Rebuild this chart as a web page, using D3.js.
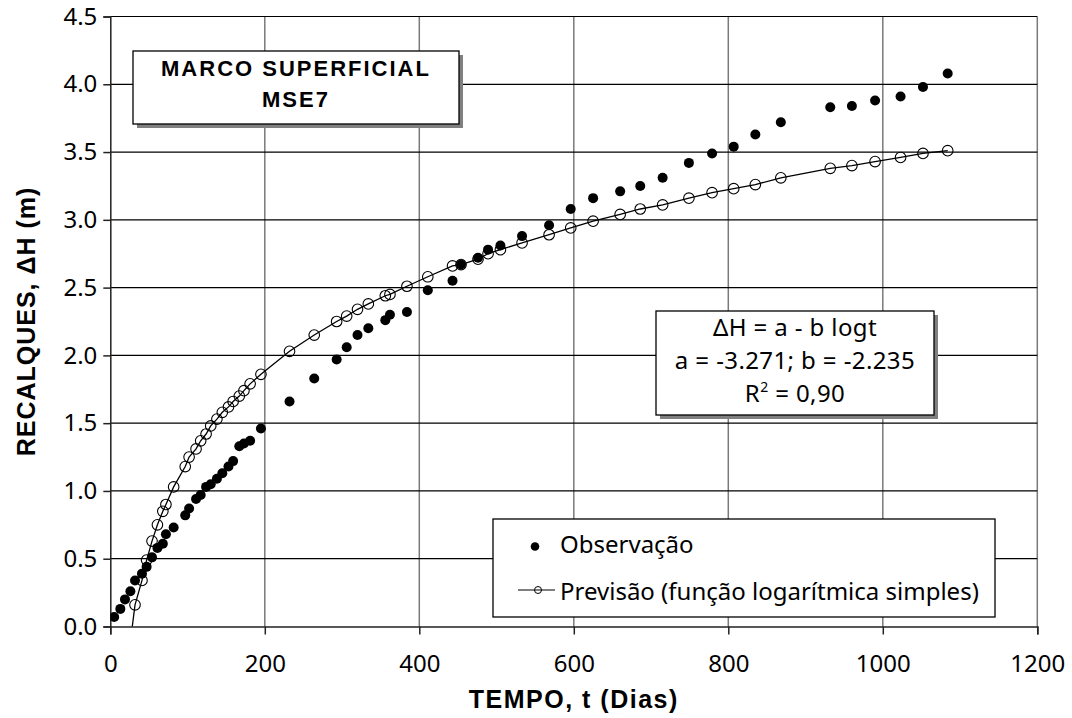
<!DOCTYPE html>
<html>
<head>
<meta charset="utf-8">
<script src="https://cdn.jsdelivr.net/npm/d3@7"></script>
<style>
  html, body { margin: 0; padding: 0; background: #fff; }
  svg { display: block; }
</style>
</head>
<body>
<svg id="chart" width="1072" height="718"></svg>
<script>
// Settlement monitoring of surface marker MSE7: observed settlements and
// the simple logarithmic prediction ΔH = a - b·log t.
const days = [5, 13, 19, 26, 32, 41, 47, 54, 61, 68, 72, 82, 97, 102, 111, 117, 124, 130, 138, 145,
  153, 159, 167, 173, 181, 195, 232, 264, 293, 306, 320, 334, 356, 362, 384, 411, 443, 454, 476, 489,
  505, 533, 568, 596, 625, 660, 686, 715, 749, 779, 807, 835, 868, 932, 960, 990, 1023, 1052, 1084];

const observed = [0.07, 0.13, 0.20, 0.26, 0.34, 0.39, 0.44, 0.51, 0.58, 0.61, 0.68, 0.73, 0.82, 0.87, 0.94,
  0.97, 1.03, 1.05, 1.09, 1.13, 1.18, 1.22, 1.33, 1.35, 1.37, 1.46, 1.66, 1.83, 1.97, 2.06,
  2.15, 2.20, 2.26, 2.30, 2.32, 2.48, 2.55, 2.67, 2.72, 2.78, 2.81, 2.88, 2.96, 3.08, 3.16,
  3.21, 3.25, 3.31, 3.42, 3.49, 3.54, 3.63, 3.72, 3.83, 3.84, 3.88, 3.91, 3.98, 4.08];

const predicted = [-1.71, -0.78, -0.41, -0.11, 0.16, 0.34, 0.49, 0.63, 0.75, 0.85, 0.90, 1.03, 1.18, 1.25, 1.31,
  1.37, 1.42, 1.48, 1.53, 1.58, 1.62, 1.66, 1.70, 1.74, 1.79, 1.86, 2.03, 2.15, 2.25, 2.29,
  2.34, 2.38, 2.44, 2.45, 2.51, 2.58, 2.66, 2.67, 2.71, 2.75, 2.78, 2.83, 2.89, 2.94, 2.99,
  3.04, 3.08, 3.11, 3.16, 3.20, 3.23, 3.26, 3.31, 3.38, 3.40, 3.43, 3.46, 3.49, 3.51];

const xTicks = [0, 200, 400, 600, 800, 1000, 1200];
const yTicks = [0, 0.5, 1.0, 1.5, 2.0, 2.5, 3.0, 3.5, 4.0, 4.5];

const xTitle = "TEMPO, t (Dias)";
const yTitle = "RECALQUES, ΔH (m)";
const markerTitle = ["MARCO SUPERFICIAL", "MSE7"];
const fitLines = ["ΔH = a - b logt", "a = -3.271; b = -2.235"];
const legendLabels = ["Observação", "Previsão (função logarítmica simples)"];

const svg = d3.select("#chart");
const plot = { left: 110.3, right: 1037.3, top: 16.5, bottom: 626.5 };

const x = d3.scaleLinear().domain([0, 1200]).range([plot.left, plot.right]);
const y = d3.scaleLinear().domain([0, 4.5]).range([plot.bottom, plot.top]);

const textFont = "'Noto Sans', 'DejaVu Sans', sans-serif";
const titleFont = "'Liberation Sans', Arial, sans-serif";
const textSize = 24;

svg.append("defs").append("clipPath").attr("id", "plot-clip")
  .append("rect")
  .attr("x", plot.left).attr("y", plot.top)
  .attr("width", plot.right - plot.left).attr("height", plot.bottom - plot.top);

// grid: vertical lines grey, horizontal lines black
const grid = svg.append("g");
grid.selectAll("line.v").data(xTicks.filter(d => d > 0)).join("line")
  .attr("x1", d => x(d)).attr("x2", d => x(d))
  .attr("y1", plot.top).attr("y2", plot.bottom)
  .attr("stroke", "#7a7a7a").attr("stroke-width", 1.5);
grid.selectAll("line.h").data(yTicks.filter(d => d > 0)).join("line")
  .attr("x1", plot.left).attr("x2", plot.right)
  .attr("y1", d => y(d)).attr("y2", d => y(d))
  .attr("stroke", "#000").attr("stroke-width", 1.2);

// axes
const xAxis = d3.axisBottom(x).tickValues(xTicks).tickSize(8).tickFormat(d3.format("d"));
const yAxis = d3.axisLeft(y).tickValues(yTicks).tickSize(7).tickFormat(d3.format(".1f"));

const gx = svg.append("g").attr("transform", `translate(0,${plot.bottom})`).call(xAxis);
gx.select(".domain").attr("stroke", "#222").attr("stroke-width", 1.5);
gx.selectAll(".tick line").attr("stroke", "#222").attr("stroke-width", 1.5);
gx.selectAll(".tick text").attr("font-family", textFont).attr("font-size", textSize)
  .attr("fill", "#000").attr("dy", "0").attr("y", 45);

const gy = svg.append("g").attr("transform", `translate(${plot.left},0)`).call(yAxis);
gy.select(".domain").attr("stroke", "#222").attr("stroke-width", 1.5);
gy.selectAll(".tick line").attr("stroke", "#222").attr("stroke-width", 1.5);
gy.selectAll(".tick text").attr("font-family", textFont).attr("font-size", textSize)
  .attr("fill", "#000").attr("x", -13);

// axis titles
svg.append("text")
  .attr("x", (plot.left + plot.right) / 2).attr("y", 708)
  .attr("text-anchor", "middle")
  .attr("font-family", titleFont).attr("font-weight", "bold").attr("font-size", 25)
  .attr("letter-spacing", 1.5)
  .text(xTitle);

svg.append("text")
  .attr("transform", `translate(35,${(plot.top + plot.bottom) / 2}) rotate(-90)`)
  .attr("text-anchor", "middle")
  .attr("font-family", titleFont).attr("font-weight", "bold").attr("font-size", 25)
  .attr("letter-spacing", 1)
  .text(yTitle);

// series
const series = svg.append("g").attr("clip-path", "url(#plot-clip)");
const rows = days.map((d, i) => ({ t: d, obs: observed[i], pred: predicted[i] }));

series.append("path")
  .datum(rows)
  .attr("fill", "none").attr("stroke", "#000").attr("stroke-width", 1.3)
  .attr("d", d3.line().x(d => x(d.t)).y(d => y(d.pred)));

series.selectAll("circle.pred").data(rows).join("circle")
  .attr("class", "pred")
  .attr("cx", d => x(d.t)).attr("cy", d => y(d.pred)).attr("r", 5.3)
  .attr("fill", "none").attr("stroke", "#000").attr("stroke-width", 1.1);

series.selectAll("circle.obs").data(rows).join("circle")
  .attr("class", "obs")
  .attr("cx", d => x(d.t)).attr("cy", d => y(d.obs)).attr("r", 5)
  .attr("fill", "#000");

// boxed annotations with drop shadow
function shadowBox(x0, y0, w, h) {
  const g = svg.append("g");
  g.append("rect").attr("x", x0 + 4).attr("y", y0 + 4).attr("width", w).attr("height", h)
    .attr("fill", "#808080");
  g.append("rect").attr("x", x0).attr("y", y0).attr("width", w).attr("height", h)
    .attr("fill", "#fff").attr("stroke", "#000").attr("stroke-width", 1.3);
  return g;
}

const titleBox = shadowBox(133, 51, 326, 73);
titleBox.selectAll("text").data(markerTitle).join("text")
  .attr("x", 296).attr("y", (d, i) => 76 + i * 31)
  .attr("text-anchor", "middle")
  .attr("font-family", titleFont).attr("font-weight", "bold").attr("font-size", 22)
  .attr("letter-spacing", 2)
  .text(d => d);

const fitBox = shadowBox(656, 311, 278, 104);
fitBox.selectAll("text.l").data(fitLines).join("text")
  .attr("x", 795).attr("y", (d, i) => 336 + i * 33)
  .attr("text-anchor", "middle")
  .attr("font-family", textFont).attr("font-size", textSize)
  .attr("letter-spacing", 0.4)
  .text(d => d);
const r2 = fitBox.append("text")
  .attr("x", 795).attr("y", 402)
  .attr("text-anchor", "middle")
  .attr("font-family", textFont).attr("font-size", textSize)
  .attr("letter-spacing", 0.4);
r2.append("tspan").text("R");
r2.append("tspan").attr("font-size", 14).attr("dy", -10).text("2");
r2.append("tspan").attr("dy", 10).text(" = 0,90");

// legend
const legend = svg.append("g");
legend.append("rect").attr("x", 493).attr("y", 519).attr("width", 502).attr("height", 98)
  .attr("fill", "#fff").attr("stroke", "#000").attr("stroke-width", 1.3);
legend.append("circle").attr("cx", 535).attr("cy", 546.5).attr("r", 4.3).attr("fill", "#000");
legend.append("line").attr("x1", 518).attr("x2", 555).attr("y1", 590).attr("y2", 590)
  .attr("stroke", "#000").attr("stroke-width", 1.2);
legend.append("circle").attr("cx", 538).attr("cy", 590).attr("r", 3.5)
  .attr("fill", "none").attr("stroke", "#000").attr("stroke-width", 1);
legend.selectAll("text").data(legendLabels).join("text")
  .attr("x", 560)
  .attr("y", (d, i) => 553 + i * 47)
  .attr("font-family", textFont).attr("font-size", textSize)
  .text(d => d);
</script>
</body>
</html>
